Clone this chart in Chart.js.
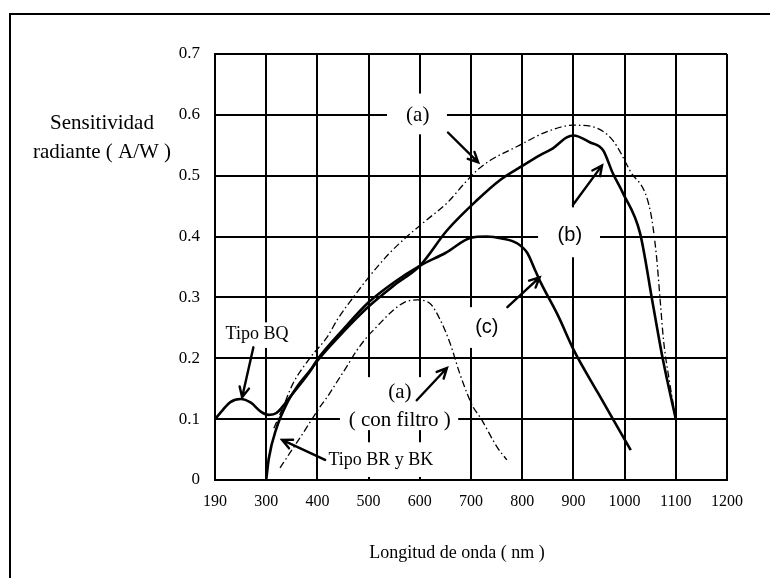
<!DOCTYPE html>
<html>
<head>
<meta charset="utf-8">
<script src="https://cdn.jsdelivr.net/npm/chart.js@4.4.1/dist/chart.umd.min.js"></script>
<style>
html,body{margin:0;padding:0;background:#fff;}
#wrap{width:770px;height:578px;position:relative;}
</style>
</head>
<body>
<div id="wrap"><canvas id="c"></canvas></div>
<script>
// Tick positions on the x axis (first tick is printed as "190")
const xTickValues = [200, 300, 400, 500, 600, 700, 800, 900, 1000, 1100, 1200];
const xTickLabels = ['190', '300', '400', '500', '600', '700', '800', '900', '1000', '1100', '1200'];
const yTickLabels = ['0', '0.1', '0.2', '0.3', '0.4', '0.5', '0.6', '0.7'];

// Curve (b) – Tipo BQ (solid)
const bX = [200, 215, 230, 250, 270, 290, 305, 320, 350, 380, 400, 450, 500, 550, 600, 653, 712, 757, 796, 835, 860, 887, 900, 932, 958, 977, 997, 1030, 1055, 1075, 1100];
const bY = [0.100, 0.115, 0.128, 0.133, 0.127, 0.112, 0.107, 0.110, 0.140, 0.172, 0.196, 0.243, 0.285, 0.320, 0.352, 0.410, 0.460, 0.493, 0.514, 0.534, 0.545, 0.563, 0.566, 0.555, 0.542, 0.504, 0.471, 0.406, 0.290, 0.197, 0.100];

// Curve (c) – Tipo BR y BK (solid)
const cX = [300, 305, 320, 340, 360, 390, 400, 450, 500, 550, 600, 650, 700, 730, 760, 790, 810, 825, 837, 870, 901, 948, 1012];
const cY = [0.000, 0.035, 0.085, 0.125, 0.153, 0.185, 0.198, 0.247, 0.292, 0.325, 0.352, 0.373, 0.398, 0.400, 0.397, 0.389, 0.373, 0.345, 0.323, 0.270, 0.213, 0.143, 0.049];

// Curve (a) – dash-dot
const aX = [315, 333, 352, 385, 420, 440, 470, 500, 540, 575, 610, 653, 690, 712, 737, 790, 850, 900, 935, 977, 1010, 1050, 1062, 1070, 1076, 1088, 1100];
const aY = [0.085, 0.120, 0.158, 0.200, 0.236, 0.265, 0.300, 0.333, 0.372, 0.400, 0.425, 0.455, 0.490, 0.509, 0.525, 0.548, 0.573, 0.583, 0.581, 0.558, 0.509, 0.443, 0.370, 0.290, 0.230, 0.160, 0.100];

// Curve (a) con filtro – dash-dot
const fX = [327, 346, 372, 405, 419, 438, 457, 477, 497, 516, 548, 570, 594, 620, 640, 659, 678, 692, 704, 718, 751, 770];
const fY = [0.020, 0.044, 0.077, 0.120, 0.136, 0.161, 0.186, 0.213, 0.235, 0.252, 0.279, 0.292, 0.296, 0.290, 0.263, 0.225, 0.175, 0.143, 0.120, 0.103, 0.054, 0.033];

const pts = (xs, ys) => xs.map((x, i) => ({x: x, y: ys[i]}));

// Annotation labels (data coordinates)
const notes = [
  {lines:['(a)'], font:'21px "Liberation Serif"', x:596, y:[0.599], box:[536, 653, 0.568, 0.635], arrow:[655, 0.571, 714, 0.522]},
  {lines:['(b)'], font:'20px "Liberation Sans"', x:893, y:[0.401], box:[831, 952, 0.366, 0.448], arrow:[899, 0.452, 956, 0.517]},
  {lines:['(c)'], font:'20px "Liberation Sans"', x:731, y:[0.250], box:[682, 772, 0.217, 0.284], arrow:[771, 0.284, 834, 0.333]},
  {lines:['(a)', '( con filtro )'], font:'21px "Liberation Serif"', x:561, y:[0.143, 0.0985], box:[444, 675, 0.082, 0.169], arrow:[594, 0.131, 653, 0.184]},
  {lines:['Tipo BR y BK'], font:'18px "Liberation Serif"', x:524, y:[0.033], box:[415, 639, 0.005, 0.062], arrow:[415, 0.033, 331, 0.066]},
  {lines:['Tipo BQ'], font:'18px "Liberation Serif"', x:282, y:[0.240], box:[214, 346, 0.217, 0.259], arrow:[275, 0.218, 253, 0.136]}
];

function drawArrow(ctx, x1, y1, x2, y2) {
  ctx.save();
  ctx.strokeStyle = '#000';
  ctx.lineWidth = 2.4;
  ctx.lineCap = 'round';
  ctx.beginPath();
  ctx.moveTo(x1, y1);
  ctx.lineTo(x2, y2);
  const ang = Math.atan2(y2 - y1, x2 - x1);
  const L = 11, w = 0.45;
  ctx.moveTo(x2 - L * Math.cos(ang - w), y2 - L * Math.sin(ang - w));
  ctx.lineTo(x2, y2);
  ctx.lineTo(x2 - L * Math.cos(ang + w), y2 - L * Math.sin(ang + w));
  ctx.stroke();
  ctx.restore();
}

const deco = {
  id: 'deco',
  beforeDraw(chart) {
    const ctx = chart.ctx;
    ctx.save();
    ctx.fillStyle = '#fff';
    ctx.fillRect(0, 0, chart.width, chart.height);
    ctx.strokeStyle = '#000';
    ctx.lineWidth = 2;
    ctx.beginPath();
    ctx.moveTo(10, chart.height + 5);
    ctx.lineTo(10, 14);
    ctx.lineTo(chart.width + 5, 14);
    ctx.stroke();
    ctx.restore();
  },
  beforeDatasetsDraw(chart) {
    const ctx = chart.ctx, xs = chart.scales.x, ys = chart.scales.y;
    ctx.save();
    ctx.fillStyle = '#fff';
    notes.forEach(n => {
      const x1 = xs.getPixelForValue(n.box[0]), x2 = xs.getPixelForValue(n.box[1]);
      const y1 = ys.getPixelForValue(n.box[3]), y2 = ys.getPixelForValue(n.box[2]);
      ctx.fillRect(x1, y1, x2 - x1, y2 - y1);
    });
    ctx.restore();
  },
  afterDatasetsDraw(chart) {
    const ctx = chart.ctx, xs = chart.scales.x, ys = chart.scales.y;
    ctx.save();
    ctx.fillStyle = '#000';
    ctx.textAlign = 'center';
    ctx.textBaseline = 'middle';
    notes.forEach(n => {
      ctx.font = n.font;
      n.lines.forEach((t, i) => {
        ctx.fillText(t, xs.getPixelForValue(n.x), ys.getPixelForValue(n.y[i]));
      });
      drawArrow(ctx, xs.getPixelForValue(n.arrow[0]), ys.getPixelForValue(n.arrow[1]),
                     xs.getPixelForValue(n.arrow[2]), ys.getPixelForValue(n.arrow[3]));
    });
    // axis titles
    ctx.font = '21px "Liberation Serif"';
    ctx.fillText('Sensitividad', 102, 123);
    ctx.fillText('radiante ( A/W )', 102, 152);
    ctx.font = '18px "Liberation Serif"';
    ctx.fillText('Longitud de onda ( nm )', 457, 553);
    ctx.restore();
  }
};

const solid = {borderColor:'#000', borderWidth:2.6, pointRadius:0, fill:false, cubicInterpolationMode:'monotone'};
const dashed = {borderColor:'#000', borderWidth:1.3, pointRadius:0, fill:false, borderDash:[7, 3, 1.5, 3], cubicInterpolationMode:'monotone'};

new Chart(document.getElementById('c'), {
  type: 'line',
  data: {
    datasets: [
      Object.assign({label:'(b) Tipo BQ', data: pts(bX, bY)}, solid),
      Object.assign({label:'(c) Tipo BR y BK', data: pts(cX, cY)}, solid),
      Object.assign({label:'(a)', data: pts(aX, aY)}, dashed),
      Object.assign({label:'(a) con filtro', data: pts(fX, fY)}, dashed)
    ]
  },
  options: {
    responsive: true,
    maintainAspectRatio: false,
    animation: false,
    layout: {padding: {top: 54, right: 43, left: 0, bottom: 0}},
    plugins: {legend: {display: false}, tooltip: {enabled: false}},
    scales: {
      x: {
        type: 'linear', min: 200, max: 1200,
        afterBuildTicks(s) { s.ticks = xTickValues.map(v => ({value: v})); },
        ticks: {
          callback: (v) => xTickLabels[xTickValues.indexOf(v)],
          font: {family: 'Liberation Serif', size: 16}, color: '#000',
          padding: 12, maxRotation: 0, autoSkip: false
        },
        grid: {color: '#000', lineWidth: 2, drawTicks: false},
        border: {color: '#000', width: 2},
        afterFit(s) { s.height = 98; }
      },
      y: {
        type: 'linear', min: 0, max: 0.7,
        afterBuildTicks(s) { s.ticks = yTickLabels.map(t => ({value: parseFloat(t)})); },
        ticks: {
          callback: (v) => yTickLabels[Math.round(v * 10)],
          font: {family: 'Liberation Serif', size: 17}, color: '#000',
          padding: 15
        },
        grid: {color: '#000', lineWidth: 2, drawTicks: false},
        border: {color: '#000', width: 2},
        afterFit(s) { s.width = 215; }
      }
    }
  },
  plugins: [deco]
});
</script>
</body>
</html>
